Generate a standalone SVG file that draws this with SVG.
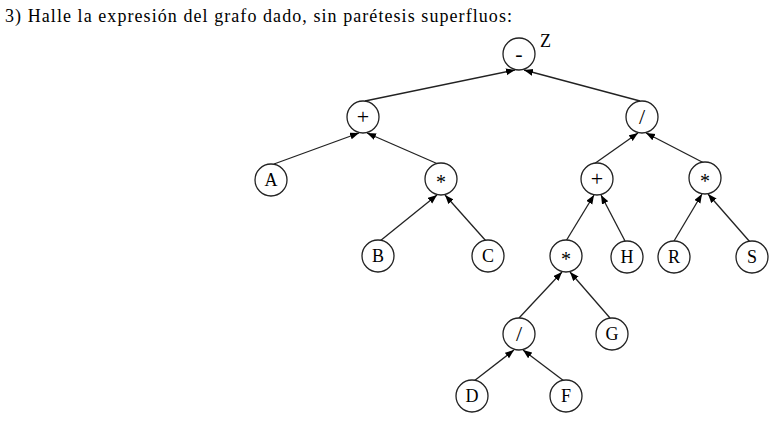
<svg xmlns="http://www.w3.org/2000/svg" width="780" height="426" viewBox="0 0 780 426">
<style>
.n circle{fill:#fff;stroke:#222;stroke-width:1.3}
.n text{font-family:"Liberation Serif","DejaVu Serif",serif;font-size:18px;text-anchor:middle;fill:#000}
.n text.op{font-size:22px}
.n text.st{font-size:20px}
.e line{stroke:#222;stroke-width:1.3;marker-end:url(#ah)}
.t{font-family:"Liberation Serif","DejaVu Serif",serif;font-size:18px;fill:#000}
</style>
<defs>
<marker id="ah" markerUnits="userSpaceOnUse" markerWidth="10" markerHeight="8" refX="9" refY="3.5" orient="auto">
<path d="M0,0 L9,3.5 L0,7 Z" fill="#000"/>
</marker>
</defs>
<rect width="780" height="426" fill="#fff"/>
<text class="t" x="5" y="22" textLength="507" lengthAdjust="spacing">3) Halle la expresión del grafo dado, sin parétesis superfluos:</text>
<text class="t" x="540" y="47">Z</text>
<g class="e" id="edges">
<line x1="365" y1="101" x2="515" y2="70"/>
<line x1="640" y1="101" x2="524" y2="70"/>
<line x1="274" y1="164" x2="359" y2="133"/>
<line x1="438" y1="164" x2="367" y2="133"/>
<line x1="594" y1="164" x2="638" y2="133"/>
<line x1="704" y1="163" x2="646" y2="133"/>
<line x1="380" y1="241" x2="437" y2="195"/>
<line x1="486" y1="241" x2="445" y2="195"/>
<line x1="566" y1="241" x2="594" y2="195"/>
<line x1="625" y1="241" x2="601" y2="195"/>
<line x1="674" y1="241" x2="702" y2="194"/>
<line x1="750" y1="242" x2="708" y2="194"/>
<line x1="519" y1="318" x2="562" y2="272"/>
<line x1="610" y1="318" x2="570" y2="272"/>
<line x1="474" y1="381" x2="514" y2="350"/>
<line x1="564" y1="381" x2="523" y2="350"/>
</g>
<g class="n" id="n-minus"><circle cx="519" cy="54" r="16"/><text class="op" x="519" y="61">-</text></g>
<g class="n" id="n-plus1"><circle cx="363" cy="117" r="16"/><text class="op" x="363" y="124">+</text></g>
<g class="n" id="n-div1"><circle cx="642" cy="117" r="16"/><text class="op" x="642" y="124">/</text></g>
<g class="n" id="n-A"><circle cx="271" cy="180" r="16"/><text x="271" y="186">A</text></g>
<g class="n" id="n-mul1"><circle cx="441" cy="179" r="16"/><text class="st" x="441" y="189">*</text></g>
<g class="n" id="n-plus2"><circle cx="597" cy="179" r="16"/><text class="op" x="597" y="186">+</text></g>
<g class="n" id="n-mul2"><circle cx="705" cy="178" r="16"/><text class="st" x="705" y="188">*</text></g>
<g class="n" id="n-B"><circle cx="378" cy="256" r="16"/><text x="378" y="262">B</text></g>
<g class="n" id="n-C"><circle cx="488" cy="256" r="16"/><text x="488" y="262">C</text></g>
<g class="n" id="n-mul3"><circle cx="566" cy="256" r="16"/><text class="st" x="566" y="266">*</text></g>
<g class="n" id="n-H"><circle cx="627" cy="257" r="16"/><text x="627" y="263">H</text></g>
<g class="n" id="n-R"><circle cx="674" cy="257" r="16"/><text x="674" y="263">R</text></g>
<g class="n" id="n-S"><circle cx="752" cy="257" r="16"/><text x="752" y="263">S</text></g>
<g class="n" id="n-div2"><circle cx="519" cy="334" r="16"/><text class="op" x="519" y="341">/</text></g>
<g class="n" id="n-G"><circle cx="612" cy="334" r="16"/><text x="612" y="340">G</text></g>
<g class="n" id="n-D"><circle cx="472" cy="396" r="16"/><text x="472" y="402">D</text></g>
<g class="n" id="n-F"><circle cx="566" cy="396" r="16"/><text x="566" y="402">F</text></g>
</svg>
